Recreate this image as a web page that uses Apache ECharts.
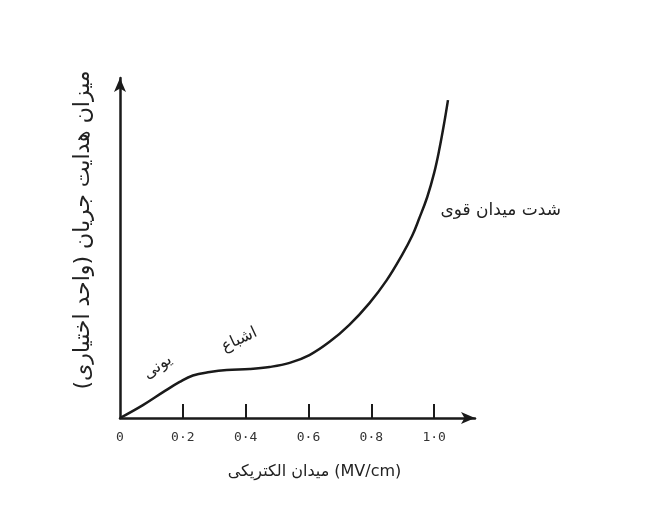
<!DOCTYPE html>
<html>
<head>
<meta charset="utf-8">
<script src="https://cdn.jsdelivr.net/npm/echarts@6/dist/echarts.min.js"></script>
<style>
html,body{margin:0;padding:0;background:#fff;}
#chart{width:648px;height:523px;}
</style>
</head>
<body>
<div id="chart"></div>
<script>
// Data
const fieldX = [0, 0.073, 0.137, 0.19, 0.232, 0.286, 0.34, 0.413, 0.476, 0.54, 0.603, 0.667, 0.730, 0.794, 0.848, 0.898, 0.930, 0.952, 0.978, 1.0, 1.016, 1.032, 1.044];
const conductanceY = [0, 0.38, 0.76, 1.06, 1.25, 1.35, 1.41, 1.44, 1.5, 1.62, 1.85, 2.24, 2.74, 3.38, 4.04, 4.80, 5.36, 5.86, 6.5, 7.21, 7.88, 8.68, 9.35];
const xTickValues = [0, 0.2, 0.4, 0.6, 0.8, 1.0];
const xTickLabels = ['0', '0·2', '0·4', '0·6', '0·8', '1·0'];
const xAxisName = 'میدان الکتریکی (MV/cm)';
const yAxisName = 'میزان هدایت جریان (واحد اختیاری)';
const annotTexts = ['یونی', 'اشباع', 'شدت میدان قوی'];
const annotX = [0.12, 0.38, 1.02];
const annotY = [1.5, 2.3, 6.1];

const arFont = "'DejaVu Sans', 'Noto Sans', sans-serif";
const chart = echarts.init(document.getElementById('chart'));
chart.setOption({
  backgroundColor: '#ffffff',
  animation: false,
  grid: { left: 120, right: 173, top: 78, bottom: 105 },
  xAxis: {
    type: 'value', min: 0, max: 1.13,
    name: xAxisName, nameLocation: 'middle', nameGap: 46,
    nameTextStyle: { fontSize: 16, color: '#222', fontFamily: arFont, padding: [0, 0, 0, 34] },
    axisLine: { lineStyle: { color: '#1a1a1a', width: 2.5 }, symbol: ['none', 'arrow'], symbolSize: [9, 14] },
    axisTick: { show: true, inside: true, length: 14, lineStyle: { color: '#1a1a1a', width: 2 }, customValues: xTickValues.slice(1) },
    axisLabel: { customValues: xTickValues, margin: 13, fontSize: 13, color: '#333', fontFamily: "'DejaVu Sans Mono', monospace",
      formatter: v => { const i = xTickValues.findIndex(t => Math.abs(t - v) < 1e-6); return i >= 0 ? xTickLabels[i] : ''; } },
    splitLine: { show: false }
  },
  yAxis: {
    type: 'value', min: 0, max: 10,
    name: yAxisName, nameLocation: 'middle', nameGap: 26, nameRotate: 90,
    nameTextStyle: { fontSize: 22, color: '#222', fontFamily: arFont, padding: [0, 0, 0, 36] },
    axisLine: { show: true, lineStyle: { color: '#1a1a1a', width: 2.5 }, symbol: ['none', 'arrow'], symbolSize: [9, 14] },
    axisTick: { show: false },
    axisLabel: { show: false },
    splitLine: { show: false }
  },
  series: [{
    type: 'line',
    data: fieldX.map((x, i) => [x, conductanceY[i]]),
    smooth: 0.4,
    showSymbol: false,
    lineStyle: { color: '#1a1a1a', width: 2.5 },
    markPoint: {
      symbol: 'circle', symbolSize: 0,
      label: { show: true, fontFamily: arFont, color: '#222', fontSize: 16 },
      data: [
        { coord: [annotX[0], annotY[0]], label: { formatter: annotTexts[0], rotate: 35 } },
        { coord: [annotX[1], annotY[1]], label: { formatter: annotTexts[1], rotate: 25 } },
        { coord: [annotX[2], annotY[2]], label: { formatter: annotTexts[2], position: 'right', distance: 0, fontSize: 17 } }
      ]
    }
  }]
});
</script>
</body>
</html>
